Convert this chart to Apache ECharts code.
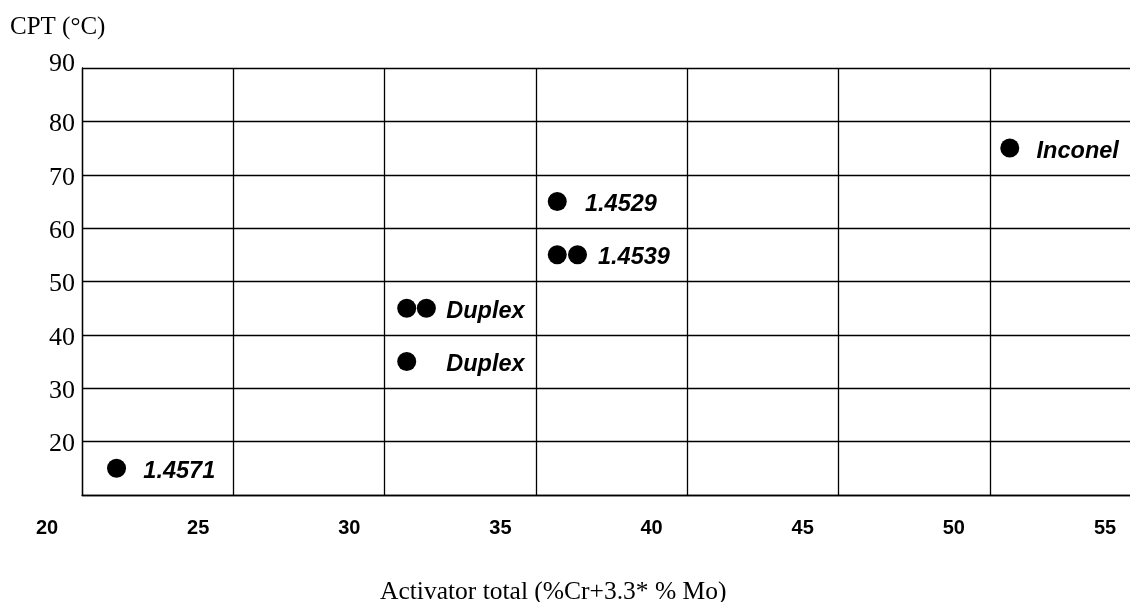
<!DOCTYPE html>
<html>
<head>
<meta charset="utf-8">
<script src="https://cdn.jsdelivr.net/npm/echarts@6/dist/echarts.min.js"></script>
<style>html,body{margin:0;padding:0;background:#fff;overflow:hidden;width:1130px;height:602px;}#chart{width:1145px;height:602px;}</style>
</head>
<body>
<div id="chart"></div>
<script>
// Data
const pointX = [22.3, 31.9, 32.55, 31.9, 36.88, 36.88, 37.55, 51.85];
const pointY = [15, 45, 45, 35, 65, 55, 55, 75];
const labelText = ['1.4571', 'Duplex', 'Duplex', '1.4529', '1.4539', 'Inconel'];
const labelX = [23.17, 33.19, 33.19, 37.78, 38.21, 52.72];
const labelY = [15, 45, 35, 65, 55, 75];
const xTickMin = 20, xTickMax = 55, xTickStep = 5;
const yMin = 10, yMax = 90, yStep = 10;
const yTitle = 'CPT (°C)';
const xTitle = 'Activator total (%Cr+3.3* % Mo)';

const serif = '"Liberation Serif", "DejaVu Serif", serif';
const sans = '"Liberation Sans", Arial, sans-serif';

const chart = echarts.init(document.getElementById('chart'), null, {renderer: 'canvas'});
chart.setOption({
  animation: false,
  backgroundColor: '#fff',
  title: [
    {text: yTitle, left: 10, top: 15, padding: 0, textStyle: {fontFamily: serif, fontSize: 25, fontWeight: 'normal', color: '#000'}},
    {text: xTitle, left: 380, top: 579, padding: 0, textStyle: {fontFamily: serif, fontSize: 25.5, fontWeight: 'normal', color: '#000'}}
  ],
  grid: [
    {left: 82, right: 10, top: 68, bottom: 107},
    {left: 47, right: 40, top: 68, bottom: 107}
  ],
  xAxis: [
    {
      gridIndex: 0, type: 'value', min: 0, max: 6.96, interval: 1,
      axisLine: {show: true, lineStyle: {color: '#000', width: 1.3}},
      axisTick: {show: false}, axisLabel: {show: false},
      splitLine: {show: true, lineStyle: {color: '#000', width: 1.3}}
    },
    {
      gridIndex: 1, type: 'value', min: xTickMin, max: xTickMax, interval: xTickStep,
      axisLine: {show: false}, axisTick: {show: false}, splitLine: {show: false},
      axisLabel: {show: true, margin: 23, fontFamily: sans, fontSize: 20, fontWeight: 'bold', color: '#000'}
    }
  ],
  yAxis: [
    {
      gridIndex: 0, type: 'value', min: yMin, max: yMax, interval: yStep,
      axisLine: {show: true, lineStyle: {color: '#000', width: 1.3}},
      axisTick: {show: false},
      axisLabel: {
        show: true, showMinLabel: false, margin: 7, fontFamily: serif, fontSize: 26, color: '#000',
        formatter: v => (v === yMax ? '{top|' + v + '}' : '{n|' + v + '}'),
        rich: {
          top: {fontFamily: serif, fontSize: 26, color: '#000', padding: [0, 0, 8, 0]},
          n: {fontFamily: serif, fontSize: 26, color: '#000', padding: [6, 0, 0, 0]}
        }
      },
      splitLine: {show: true, lineStyle: {color: '#000', width: 1.3}}
    },
    {gridIndex: 1, type: 'value', min: yMin, max: yMax, show: false, splitLine: {show: false}}
  ],
  series: [
    {
      type: 'scatter', xAxisIndex: 1, yAxisIndex: 1,
      symbol: 'circle', symbolSize: 19,
      itemStyle: {color: '#000', opacity: 1},
      data: pointX.map((x, i) => [x, pointY[i]])
    },
    {
      type: 'scatter', xAxisIndex: 1, yAxisIndex: 1,
      symbolSize: 1, itemStyle: {color: 'rgba(0,0,0,0)', opacity: 1},
      label: {
        show: true, position: 'right', distance: 0,
        formatter: p => p.data[2],
        fontFamily: sans, fontSize: 23.5, fontWeight: 'bold', fontStyle: 'italic', color: '#000',
        offset: [0, 3]
      },
      data: labelX.map((x, i) => [x, labelY[i], labelText[i]])
    }
  ]
});
</script>
</body>
</html>
